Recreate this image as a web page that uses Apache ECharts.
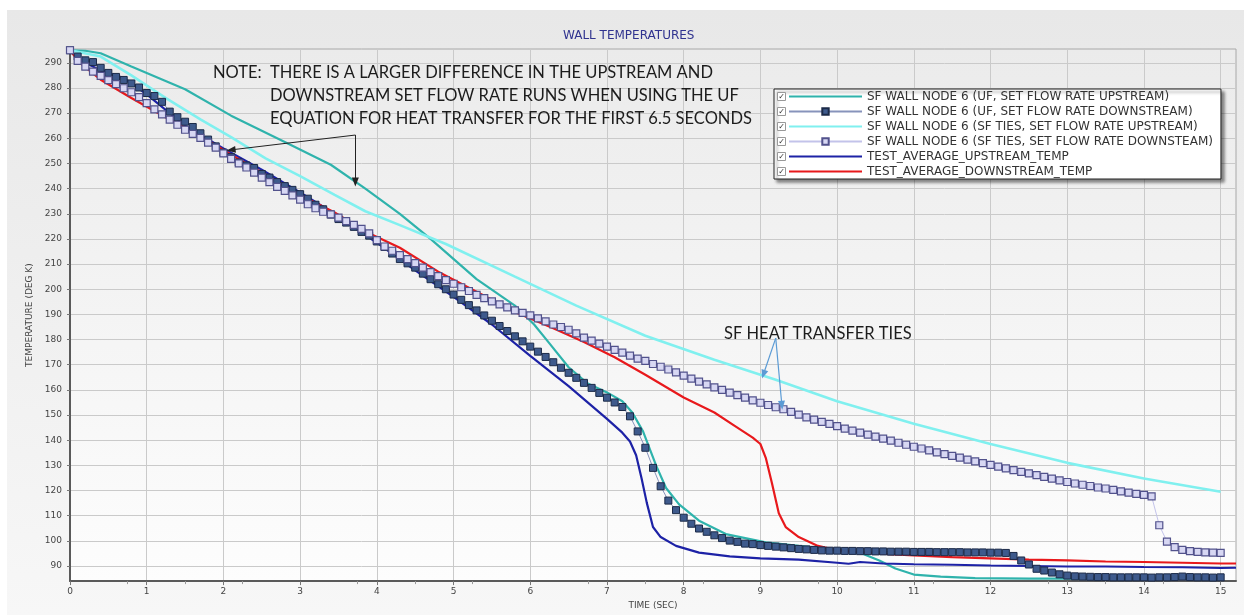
<!DOCTYPE html>
<html lang="en">
<head>
<meta charset="UTF-8">
<title>Wall temperatures</title>
<script src="https://cdn.jsdelivr.net/npm/echarts@6.0.0/dist/echarts.min.js"></script>
<style>
  html, body { margin: 0; padding: 0; background: #fff; }
  #main { width: 1250px; height: 615px; }
</style>
</head>
<body>
<div id="main"></div>
<script>
// series names, in legend order
var seriesNames = [
  'SF WALL NODE 6 (UF, SET FLOW RATE UPSTREAM)',
  'SF WALL NODE 6 (UF, SET FLOW RATE DOWNSTREAM)',
  'SF WALL NODE 6 (SF TIES, SET FLOW RATE UPSTREAM)',
  'SF WALL NODE 6 (SF TIES, SET FLOW RATE DOWNSTEAM)',
  'TEST_AVERAGE_UPSTREAM_TEMP',
  'TEST_AVERAGE_DOWNSTREAM_TEMP'
];

var xTicks = [0, 1, 2, 3, 4, 5, 6, 7, 8, 9, 10, 11, 12, 13, 14, 15];
var yTicks = [90, 100, 110, 120, 130, 140, 150, 160, 170, 180, 190, 200, 210, 220, 230, 240, 250, 260, 270, 280, 290];

// UF, set flow rate upstream (teal line)
var ufUpTime = [0, 0.2, 0.4, 0.8, 1.5, 2.1, 2.8, 3.4, 3.85, 4.3, 4.7, 5.3, 5.8, 6.05, 6.25, 6.5, 6.75, 7.0, 7.2, 7.33,
  7.47, 7.64, 7.77, 7.94, 8.2, 8.55, 9.07, 9.5, 10.0, 10.3, 10.55, 10.76, 11.0, 11.35, 11.8, 12.5, 13.0, 14.0, 15.0];
var ufUpTemp = [295, 294.8, 293.8, 288.5, 279.5, 269, 258.5, 249.5, 240, 230, 220, 204, 193.5, 186, 178.5, 169, 162.5, 159, 155.5, 151,
  143.5, 130, 121, 114.5, 108, 102.7, 99.4, 98, 96.5, 95.3, 92.2, 89, 86.6, 85.8, 85.2, 85, 85, 85, 85];

// SF ties, set flow rate upstream (light cyan line)
var sfUpTime = [0, 0.4, 0.8, 1.25, 1.7, 2.1, 2.55, 3.0, 3.45, 3.85, 4.3, 4.9, 5.8, 6.6, 7.5, 8.4, 9.2, 10.0, 11.0, 12.0, 13.0, 14.0, 15.0];
var sfUpTemp = [295, 292.5, 285, 276, 267.5, 260.5, 252, 245, 237.5, 231, 225.5, 218, 205, 193.5, 181.5, 172, 164, 155.5, 146.5, 138.5, 131, 124.8, 119.5];

// test average upstream (navy line)
var testUpTime = [0, 0.1, 0.4, 0.7, 1.0, 1.5, 2.0, 2.5, 3.0, 3.5, 4.0, 4.5, 5.0, 5.5, 6.0, 6.5, 7.0, 7.2, 7.3, 7.38, 7.45,
  7.52, 7.6, 7.7, 7.9, 8.2, 8.6, 9.0, 9.5, 10.0, 10.15, 10.3, 10.6, 11.0, 11.5, 12.0, 12.5, 13.0, 13.5, 14.0, 14.5, 15.0, 15.2];
var testUpTemp = [295, 291.5, 287, 284, 277.5, 265, 256, 247.5, 238.5, 229, 218.5, 207.5, 197, 186, 173.5, 161.5, 148.5, 143, 139.5, 134, 125,
  115, 105.5, 101.5, 98, 95.3, 93.8, 93, 92.5, 91.3, 90.9, 91.6, 91, 90.7, 90.5, 90.2, 90, 89.8, 89.8, 89.6, 89.5, 89.2, 89.3];

// test average downstream (red line)
var testDownTime = [0, 0.13, 0.4, 0.8, 1.25, 1.7, 2.1, 2.55, 3.0, 3.45, 3.85, 4.3, 4.8, 5.3, 5.8, 6.3, 6.7, 7.1, 7.5, 8.0, 8.4,
  8.65, 8.9, 9.0, 9.07, 9.15, 9.24, 9.33, 9.5, 9.75, 10.0, 10.5, 11.0, 11.5, 12.0, 12.5, 13.0, 13.5, 14.0, 14.5, 15.0, 15.2];
var testDownTemp = [295, 290, 283.3, 276, 268.3, 261, 253.5, 245.5, 237.5, 230.5, 223, 216.5, 207, 199, 191, 184.5, 179, 173, 166, 157, 151,
  146, 141, 138.5, 133, 123, 111, 105.5, 101.5, 98, 96.2, 95, 94.2, 93.5, 93, 92.5, 92.2, 91.8, 91.6, 91.3, 91, 91];

// the two marker series are sampled every 0.1 s from 0 to 15 s
var sampleTime = [];
for (var i = 0; i <= 150; i++) sampleTime.push(i / 10);

// UF, set flow rate downstream (dark squares)
var ufDownTemp = [
  295, 292.5, 291, 290.3, 288, 286, 284.4, 283.2, 281.8, 280.2,
  278, 276.8, 274.5, 270.6, 268.4, 266.6, 264.5, 262, 259.5, 256.8,
  254.3, 252.5, 250.4, 249.2, 248.2, 245.8, 244.4, 242.6, 241, 239.5,
  237.8, 236, 233.6, 231.8, 229.7, 227.9, 226.5, 224.8, 222.8, 221.3,
  219, 216.8, 214.2, 212, 210.3, 208.6, 206.2, 204, 202, 200,
  197.9, 195.8, 193.7, 191.6, 189.6, 187.5, 185.4, 183.4, 181.3, 179.3,
  177.2, 175.2, 173.1, 171, 168.8, 166.8, 164.8, 162.8, 160.8, 158.8,
  156.9, 155, 153.2, 149.5, 143.5, 137, 129, 121.7, 116, 112.2,
  109.2, 106.8, 104.9, 103.6, 102.2, 101.1, 100.1, 99.6, 98.9, 98.7,
  98.3, 98, 97.7, 97.4, 97.1, 96.8, 96.6, 96.4, 96.2, 96.1,
  96.1, 96, 96, 95.9, 95.9, 95.8, 95.8, 95.7, 95.7, 95.7,
  95.6, 95.6, 95.6, 95.5, 95.5, 95.5, 95.5, 95.4, 95.4, 95.4,
  95.3, 95.3, 95.2, 94, 92.2, 90.6, 88.9, 88.2, 87.4, 86.7,
  86.2, 85.9, 85.8, 85.7, 85.6, 85.6, 85.5, 85.5, 85.5, 85.5,
  85.5, 85.4, 85.5, 85.5, 85.6, 85.8, 85.6, 85.5, 85.5, 85.4,
  85.5
];

// SF ties, set flow rate downstream (open lavender squares)
var sfDownTemp = [
  295, 290.8, 288.5, 286.5, 284.8, 283.1, 281.5, 279.9, 278.3, 276.4,
  274, 271.5, 269.5, 267.4, 265.4, 263.4, 261.8, 260.2, 258.3, 256.3,
  254, 251.8, 250, 248.4, 246.4, 244.4, 242.6, 240.7, 239.1, 237.3,
  235.6, 233.8, 232.2, 230.8, 229.8, 228.5, 227.1, 225.6, 224, 222.2,
  219.5, 217, 215.3, 213.6, 212, 210.4, 208.6, 206.8, 205.2, 203.6,
  202.2, 200.8, 199.3, 197.8, 196.5, 195.2, 194, 192.8, 191.6, 190.6,
  189.6, 188.4, 187.2, 186, 185, 183.9, 182.5, 180.8, 179.6, 178.4,
  177.2, 175.9, 174.8, 173.6, 172.4, 171.5, 170.3, 169.2, 168.1, 167,
  165.7, 164.5, 163.3, 162.2, 161, 160, 158.9, 157.9, 156.9, 155.8,
  154.9, 154, 153.1, 152.3, 151.3, 150.2, 149.1, 148.2, 147.3, 146.5,
  145.6, 144.6, 143.8, 143, 142.2, 141.4, 140.6, 139.8, 139, 138.2,
  137.4, 136.7, 136, 135.2, 134.5, 133.8, 133.1, 132.3, 131.6, 130.9,
  130.2, 129.5, 128.8, 128.1, 127.4, 126.8, 126.1, 125.4, 124.7, 124,
  123.4, 122.8, 122.3, 121.8, 121.2, 120.8, 120.3, 119.7, 119.2, 118.7,
  118.3, 117.7, 106.2, 99.7, 97.5, 96.4, 95.9, 95.6, 95.4, 95.3,
  95.2
];

// annotation arrows, in data units [time, temp]
var noteArrowStart = [3.72, 261.3];
var noteArrowEnds = [[2.10, 255.4], [3.72, 242.6]];
var tiesArrowStart = [9.20, 180.6];
var tiesArrowEnds = [[9.04, 166.2], [9.28, 153.9]];

function pairs(xs, ys) {
  return xs.map(function (x, i) { return [x, ys[i]]; });
}

var axisFont = 'DejaVu Sans';
var noteFont = '16.5px Lato';

var arrowData = [];
noteArrowEnds.forEach(function (e) {
  arrowData.push([{ coord: noteArrowStart, lineStyle: { color: '#222', width: 1 } }, { coord: e }]);
});
tiesArrowEnds.forEach(function (e) {
  arrowData.push([{ coord: tiesArrowStart, lineStyle: { color: '#5b9bd5', width: 1.2 } }, { coord: e }]);
});

var myChart = echarts.init(document.getElementById('main'));

// checkboxes in front of each legend entry
var checks = [];
for (var r = 0; r < 6; r++) {
  var cy = 96.5 + r * 15;
  checks.push({
    type: 'rect', shape: { x: 777.5, y: cy - 4, width: 8, height: 8 },
    style: { fill: '#fff', stroke: '#999', lineWidth: 1 }, z: 200
  });
  checks.push({
    type: 'text', x: 781.5, y: cy,
    style: { text: '\u2713', font: 'bold 8px DejaVu Sans', fill: '#333', textAlign: 'center', textVerticalAlign: 'middle' }, z: 201
  });
}

var option = {
  animation: false,
  title: {
    text: 'WALL TEMPERATURES',
    left: 563, top: 30, padding: 0,
    textStyle: { fontSize: 12, fontWeight: 'normal', color: '#30338f', fontFamily: axisFont }
  },
  graphic: [
    {
      type: 'rect', z: -10, silent: true,
      shape: { x: 7, y: 10, width: 1237, height: 605 },
      style: { fill: new echarts.graphic.LinearGradient(0, 0, 0, 1, [
        { offset: 0, color: '#e8e8e8' }, { offset: 1, color: '#f7f7f7' }]) }
    },
    {
      type: 'text', x: 213, y: 73, z: 150,
      style: { text: 'NOTE:', font: noteFont, fill: '#1c1c1c', textVerticalAlign: 'middle' }
    },
    {
      type: 'text', x: 270, y: 73, z: 150,
      style: { text: 'THERE IS A LARGER DIFFERENCE IN THE UPSTREAM AND', font: noteFont, fill: '#1c1c1c', textVerticalAlign: 'middle' }
    },
    {
      type: 'text', x: 270, y: 96, z: 150,
      style: { text: 'DOWNSTREAM SET FLOW RATE RUNS WHEN USING THE UF', font: noteFont, fill: '#1c1c1c', textVerticalAlign: 'middle' }
    },
    {
      type: 'text', x: 270, y: 119, z: 150,
      style: { text: 'EQUATION FOR HEAT TRANSFER FOR THE FIRST 6.5 SECONDS', font: noteFont, fill: '#1c1c1c', textVerticalAlign: 'middle' }
    },
    {
      type: 'text', x: 724, y: 334, z: 150,
      style: { text: 'SF HEAT TRANSFER TIES', font: noteFont, fill: '#1c1c1c', textVerticalAlign: 'middle' }
    }
  ].concat(checks),
  legend: {
    data: [
      { name: seriesNames[0], itemStyle: { color: 'rgba(0,0,0,0)', borderWidth: 0 } },
      { name: seriesNames[1] },
      { name: seriesNames[2], itemStyle: { color: 'rgba(0,0,0,0)', borderWidth: 0 } },
      { name: seriesNames[3] },
      { name: seriesNames[4], itemStyle: { color: 'rgba(0,0,0,0)', borderWidth: 0 } },
      { name: seriesNames[5], itemStyle: { color: 'rgba(0,0,0,0)', borderWidth: 0 } }
    ],
    orient: 'vertical',
    left: 774, top: 89,
    padding: [1, 8, 1, 14],
    itemWidth: 73, itemHeight: 8, itemGap: 2,
    selectedMode: false,
    backgroundColor: '#fff',
    borderColor: '#222', borderWidth: 1,
    shadowColor: 'rgba(0,0,0,0.45)', shadowBlur: 3, shadowOffsetX: 3, shadowOffsetY: 3,
    textStyle: { fontSize: 12, color: '#333', fontFamily: axisFont, lineHeight: 13 },
    z: 120
  },
  grid: {
    left: 70, right: 14, top: 49, bottom: 28,
    show: true,
    backgroundColor: new echarts.graphic.LinearGradient(0, 0, 0, 1, [
      { offset: 0, color: '#ebebeb' }, { offset: 1, color: '#fdfdfd' }]),
    borderColor: '#a8a8a8', borderWidth: 1
  },
  xAxis: {
    type: 'value', min: 0, max: 15.2,
    name: 'TIME (SEC)', nameLocation: 'middle', nameGap: 15,
    nameTextStyle: { fontSize: 9, color: '#444', fontFamily: axisFont },
    axisLine: { onZero: false, lineStyle: { color: '#5a5a5a', width: 2 } },
    axisTick: { show: true, length: 4, customValues: xTicks, lineStyle: { color: '#777' } },
    minorTick: { show: true, splitNumber: 4, length: 3, lineStyle: { color: '#999' } },
    axisLabel: { customValues: xTicks, fontSize: 9, color: '#444', fontFamily: axisFont, margin: 6 },
    splitLine: { show: true, lineStyle: { color: '#cacaca', width: 1 } }
  },
  yAxis: {
    type: 'value', min: 84, max: 295.5,
    name: 'TEMPERATURE (DEG K)', nameLocation: 'middle', nameGap: 35,
    nameTextStyle: { fontSize: 9, color: '#444', fontFamily: axisFont },
    axisLine: { show: true, onZero: false, lineStyle: { color: '#5a5a5a', width: 2 } },
    axisTick: { show: true, length: 3, customValues: yTicks, lineStyle: { color: '#777' } },
    axisLabel: { customValues: yTicks, fontSize: 9, color: '#444', fontFamily: axisFont, margin: 8 },
    splitLine: { show: true, lineStyle: { color: '#cacaca', width: 1 } }
  },
  series: [
    {
      name: seriesNames[0], type: 'line', data: pairs(ufUpTime, ufUpTemp),
      symbol: 'none', lineStyle: { color: '#2fb3ac', width: 2.2 }, itemStyle: { color: '#2fb3ac' }
    },
    {
      name: seriesNames[1], type: 'line', data: pairs(sampleTime, ufDownTemp),
      symbol: 'rect', symbolSize: 7,
      lineStyle: { color: '#8793bb', width: 1 },
      itemStyle: { color: '#3e5a8c', borderColor: '#1b2a48', borderWidth: 1 }
    },
    {
      name: seriesNames[2], type: 'line', data: pairs(sfUpTime, sfUpTemp),
      symbol: 'none', lineStyle: { color: '#80f0ef', width: 2.6 }, itemStyle: { color: '#80f0ef' }
    },
    {
      name: seriesNames[3], type: 'line', data: pairs(sampleTime, sfDownTemp),
      symbol: 'rect', symbolSize: 7,
      lineStyle: { color: '#c3c3ea', width: 1 },
      itemStyle: { color: '#d7d7f3', borderColor: '#52528c', borderWidth: 1.2 }
    },
    {
      name: seriesNames[4], type: 'line', data: pairs(testUpTime, testUpTemp),
      symbol: 'none', lineStyle: { color: '#1d22a6', width: 2.2 }, itemStyle: { color: '#1d22a6' }
    },
    {
      name: seriesNames[5], type: 'line', data: pairs(testDownTime, testDownTemp),
      symbol: 'none', lineStyle: { color: '#e8191c', width: 2.2 }, itemStyle: { color: '#e8191c' },
      markLine: {
        silent: true, animation: false,
        symbol: ['none', 'triangle'], symbolSize: [7, 9],
        label: { show: false },
        lineStyle: { type: 'solid' },
        data: arrowData
      }
    }
  ]
};

myChart.setOption(option);
</script>
</body>
</html>
